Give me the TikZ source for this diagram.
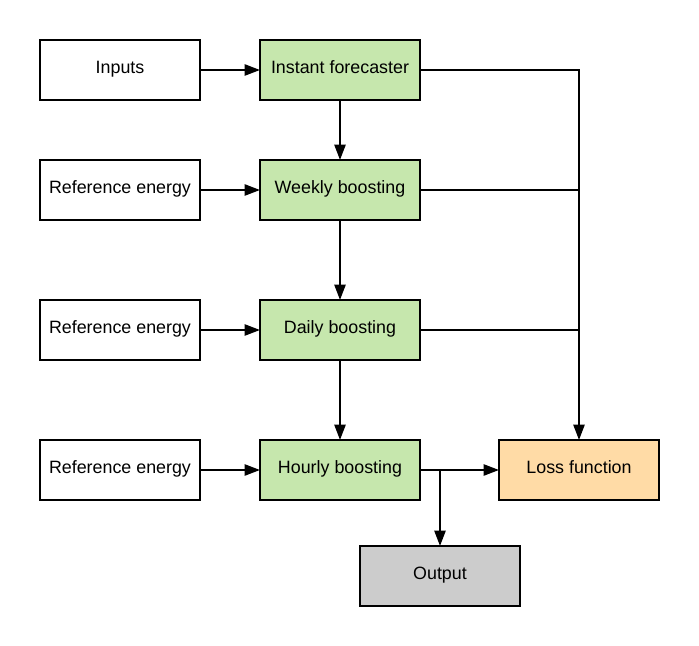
\documentclass[tikz,border=0pt]{standalone}
\usepackage{fontspec}
\setmainfont{Liberation Sans}
\usetikzlibrary{arrows.meta,positioning}
\definecolor{stagegreen}{HTML}{C6E7AD}
\definecolor{lossorange}{HTML}{FFDBA6}
\definecolor{outgray}{HTML}{CCCCCC}
\tikzstyle{block} = [rectangle, draw, line width=1.4pt, fill=white,
    minimum width=4cm, minimum height=1.5cm, inner sep=0pt, outer sep=0pt,
    text height=1.6ex, text depth=.55ex,
    font=\fontsize{12.7}{15}\selectfont]
\tikzstyle{line} = [draw, line width=1.4pt, -{Triangle[length=11pt,width=8pt]}]
\tikzstyle{wire} = [draw, line width=1.4pt]

\begin{document}
\begin{tikzpicture}[node distance=1.5cm, auto]
    \useasboundingbox (0,0) rectangle (17.475,-16.15);
    % Place nodes
    \node [block] (inp) at (3,-1.75) {Inputs};
    \node [block, fill=stagegreen, right = of inp] (inst) {Instant forecaster};
    \node [block, fill=stagegreen, below = of inst] (week) {Weekly boosting};
    \node [block, fill=stagegreen, below = 2cm of week] (day) {Daily boosting};
    \node [block, fill=stagegreen, below = 2cm of day] (hour) {Hourly boosting};
    \node [block, left = of week] (refw) {Reference energy};
    \node [block, left = of day] (refd) {Reference energy};
    \node [block, left = of hour] (refh) {Reference energy};
    \node [block, fill=lossorange, right = 1.975cm of hour] (loss) {Loss function};
    \node [block, fill=outgray, below = 1.15cm of hour, xshift=2.5cm] (out) {Output};
    \coordinate (split) at (hour.east -| out);
    % Connectors
    \draw [line] (inp) -- (inst);
    \draw [line] (refw) -- (week);
    \draw [line] (refd) -- (day);
    \draw [line] (refh) -- (hour);
    \draw [line] (inst) -- (week);
    \draw [line] (week) -- (day);
    \draw [line] (day) -- (hour);
    \draw [line] (inst) -| (loss);
    \draw [wire] (week) -- (week -| loss);
    \draw [wire] (day) -- (day -| loss);
    \draw [line] (hour) -- (loss);
    \draw [line] (split) -- (out);
\end{tikzpicture}
\end{document}
